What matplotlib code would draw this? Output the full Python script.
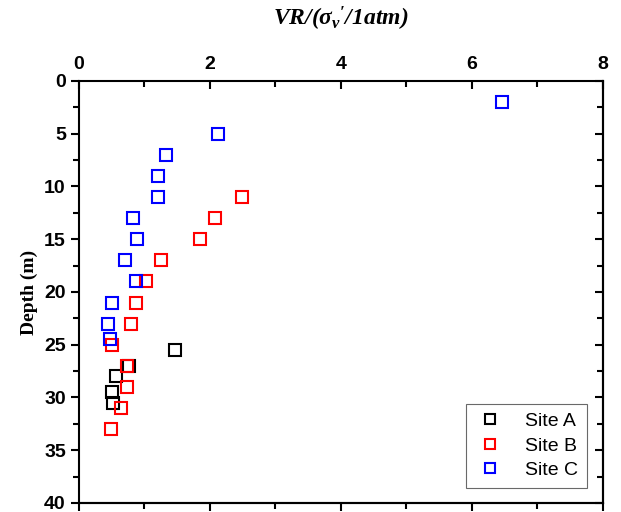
import matplotlib
matplotlib.use("Agg")
import matplotlib.pyplot as plt
from matplotlib.ticker import MultipleLocator

plt.rcParams["mathtext.fontset"] = "custom"
plt.rcParams["mathtext.it"] = "Liberation Serif:italic:bold"
plt.rcParams["mathtext.rm"] = "Liberation Serif:italic:bold"
plt.rcParams["mathtext.bf"] = "Liberation Serif:italic:bold"

# Site A
a_vr = [1.46, 0.76, 0.565, 0.50, 0.52]
a_depth = [25.5, 27.0, 28.0, 29.5, 30.5]

# Site B
b_vr = [2.49, 2.07, 1.85, 1.25, 1.02, 0.87, 0.80, 0.51, 0.73, 0.74, 0.64, 0.49]
b_depth = [11, 13, 15, 17, 19, 21, 23, 25, 27, 29, 31, 33]

# Site C
c_vr = [6.46, 2.12, 1.33, 1.20, 1.20, 0.83, 0.89, 0.71, 0.87, 0.51, 0.45, 0.48]
c_depth = [2, 5, 7, 9, 11, 13, 15, 17, 19, 21, 23, 24.5]

tick_font = dict(family=["Liberation Sans Narrow", "Liberation Sans", "DejaVu Sans"],
                 weight="bold", size=14)

fig = plt.figure(figsize=(6.21, 5.12), dpi=100)
ax = fig.add_axes([0.1272, 0.0176, 0.8438, 0.8242])

mk = dict(linestyle="none", marker="s", markersize=9, markerfacecolor="none",
          markeredgewidth=1.5)
ax.plot(a_vr, a_depth, markeredgecolor="black", label="Site A", **mk)
ax.plot(b_vr, b_depth, markeredgecolor="#ff0000", label="Site B", **mk)
ax.plot(c_vr, c_depth, markeredgecolor="#0000ff", label="Site C", **mk)

ax.set_xlim(0, 8)
ax.set_ylim(40, 0)
ax.xaxis.set_major_locator(MultipleLocator(2))
ax.xaxis.set_minor_locator(MultipleLocator(1))
ax.yaxis.set_major_locator(MultipleLocator(5))
ax.yaxis.set_minor_locator(MultipleLocator(2.5))

ax.tick_params(axis="x", which="both", top=True, bottom=False, labeltop=True,
               labelbottom=False, direction="in", width=1.5, pad=6)
ax.tick_params(axis="x", which="major", length=6)
ax.tick_params(axis="x", which="minor", length=4)
ax.tick_params(axis="y", which="both", left=True, right=False, direction="out", width=1.5)
ax.tick_params(axis="y", which="major", length=6)
ax.tick_params(axis="y", which="minor", length=4)
for lab in ax.get_xticklabels() + ax.get_yticklabels():
    lab.set_fontproperties(matplotlib.font_manager.FontProperties(**tick_font))

# bottom / right ticks
secx = ax.secondary_xaxis("bottom")
secx.xaxis.set_major_locator(MultipleLocator(2))
secx.xaxis.set_minor_locator(MultipleLocator(1))
secx.tick_params(which="both", direction="out", width=1.5, labelbottom=False)
secx.tick_params(which="major", length=6)
secx.tick_params(which="minor", length=4)
secy = ax.secondary_yaxis("right")
secy.yaxis.set_major_locator(MultipleLocator(5))
secy.yaxis.set_minor_locator(MultipleLocator(2.5))
secy.tick_params(which="both", direction="in", width=1.5, labelright=False)
secy.tick_params(which="major", length=6)
secy.tick_params(which="minor", length=4)
for s in list(ax.spines.values()) + list(secx.spines.values()) + list(secy.spines.values()):
    s.set_linewidth(1.5)

ax.set_title(r"$\mathit{VR/(\sigma_v\mathrm{'}/1atm)}$", fontsize=17, pad=40)
ax.set_ylabel("Depth (m)", family="Liberation Serif", weight="bold", fontsize=14, labelpad=4)

leg = ax.legend(loc="lower right", bbox_to_anchor=(0.9695, 0.036), borderaxespad=0,
                frameon=True, fancybox=False, edgecolor="#444444",
                prop=dict(family="Liberation Sans", size=14),
                handletextpad=1.0, borderpad=0.45, labelspacing=0.35, handlelength=1.6,
                markerscale=0.85)
leg.get_frame().set_linewidth(0.8)

fig.savefig("out.png", dpi=100)
